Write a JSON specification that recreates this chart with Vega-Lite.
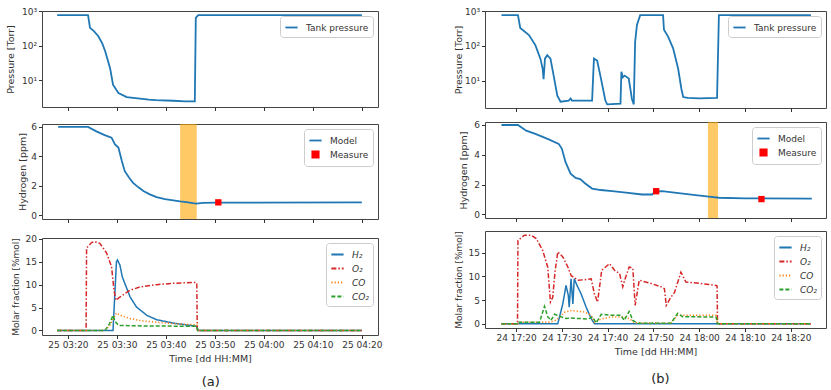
{
  "$schema": "https://vega.github.io/schema/vega-lite/v6.json",
  "padding": {"left": 4, "top": 6, "right": 0, "bottom": 0},
  "config": {
    "font": "DejaVu Sans",
    "view": {"stroke": "#444", "strokeWidth": 1},
    "axis": {"domain": false, "grid": false, "tickColor": "#333", "tickSize": 3.5, "labelFontSize": 9, "labelColor": "#333", "titleFontSize": 9.5, "titleFontWeight": "normal", "titleColor": "#333", "labelPadding": 2},
    "legend": {"labelFontSize": 9, "labelColor": "#333", "strokeColor": "#ccc", "fillColor": "#ffffff", "cornerRadius": 3, "padding": 4, "offset": 5, "symbolStrokeWidth": 1.8, "rowPadding": 1, "symbolSize": 150, "labelOffset": 7},
    "title": {"fontSize": 13, "fontWeight": "normal", "color": "#222"}
  },
  "datasets": {
    "pA": [
      {"t": 197.8, "p": 760}, {"t": 204.1, "p": 760}, {"t": 204.5, "p": 325}, {"t": 205.3, "p": 260}, {"t": 206.2, "p": 185},
      {"t": 207.0, "p": 115}, {"t": 207.6, "p": 68}, {"t": 208.6, "p": 22}, {"t": 209.2, "p": 7.3}, {"t": 210.3, "p": 4.2},
      {"t": 212.0, "p": 3.2}, {"t": 214.7, "p": 2.9}, {"t": 216.5, "p": 2.7}, {"t": 218.0, "p": 2.6}, {"t": 221.5, "p": 2.5},
      {"t": 224.0, "p": 2.4}, {"t": 225.9, "p": 2.4}, {"t": 226.1, "p": 630}, {"t": 226.6, "p": 760}, {"t": 260.0, "p": 760}
    ],
    "hA": [
      {"t": 198.0, "h": 6.0}, {"t": 204.1, "h": 6.0}, {"t": 205.9, "h": 5.68}, {"t": 207.5, "h": 5.45}, {"t": 208.9, "h": 5.27},
      {"t": 209.6, "h": 4.82}, {"t": 210.3, "h": 4.6}, {"t": 211.0, "h": 3.69}, {"t": 211.6, "h": 3.0}, {"t": 212.5, "h": 2.55},
      {"t": 213.3, "h": 2.2}, {"t": 214.4, "h": 1.9}, {"t": 215.4, "h": 1.65}, {"t": 216.7, "h": 1.42}, {"t": 218.1, "h": 1.24},
      {"t": 219.8, "h": 1.1}, {"t": 221.5, "h": 1.02}, {"t": 222.9, "h": 0.95}, {"t": 224.2, "h": 0.9}, {"t": 225.5, "h": 0.83},
      {"t": 226.3, "h": 0.8}, {"t": 227.5, "h": 0.84}, {"t": 230.3, "h": 0.86}, {"t": 260.0, "h": 0.88}
    ],
    "mA": [{"t": 230.7, "h": 0.88}],
    "bA": [{"t0": 222.9, "t1": 226.3}],
    "gA": [
      {"t": 197.8, "g": "H₂", "v": 0}, {"t": 209.2, "g": "H₂", "v": 0}, {"t": 209.9, "g": "H₂", "v": 15.0}, {"t": 210.1, "g": "H₂", "v": 15.4},
      {"t": 210.6, "g": "H₂", "v": 14.3}, {"t": 211.1, "g": "H₂", "v": 11.7}, {"t": 211.6, "g": "H₂", "v": 10.3}, {"t": 212.7, "g": "H₂", "v": 7.3},
      {"t": 214.0, "g": "H₂", "v": 5.1}, {"t": 216.1, "g": "H₂", "v": 3.3}, {"t": 218.1, "g": "H₂", "v": 2.35}, {"t": 221.5, "g": "H₂", "v": 1.6},
      {"t": 224.9, "g": "H₂", "v": 1.1}, {"t": 226.3, "g": "H₂", "v": 0.9}, {"t": 226.6, "g": "H₂", "v": 0}, {"t": 260.0, "g": "H₂", "v": 0},
      {"t": 197.8, "g": "O₂", "v": 0}, {"t": 203.7, "g": "O₂", "v": 0}, {"t": 203.8, "g": "O₂", "v": 18.0}, {"t": 204.8, "g": "O₂", "v": 19.2},
      {"t": 205.5, "g": "O₂", "v": 19.4}, {"t": 206.5, "g": "O₂", "v": 19.05}, {"t": 207.9, "g": "O₂", "v": 16.9}, {"t": 208.9, "g": "O₂", "v": 13.9},
      {"t": 209.4, "g": "O₂", "v": 8.8}, {"t": 209.8, "g": "O₂", "v": 6.6}, {"t": 210.6, "g": "O₂", "v": 7.3}, {"t": 212.7, "g": "O₂", "v": 8.8},
      {"t": 214.7, "g": "O₂", "v": 9.5}, {"t": 218.1, "g": "O₂", "v": 10.0}, {"t": 221.5, "g": "O₂", "v": 10.3}, {"t": 225.9, "g": "O₂", "v": 10.5},
      {"t": 226.3, "g": "O₂", "v": 10.4}, {"t": 226.4, "g": "O₂", "v": 0}, {"t": 260.0, "g": "O₂", "v": 0},
      {"t": 197.8, "g": "CO", "v": 0}, {"t": 207.5, "g": "CO", "v": 0}, {"t": 208.5, "g": "CO", "v": 1.0}, {"t": 209.4, "g": "CO", "v": 2.8},
      {"t": 209.9, "g": "CO", "v": 3.8}, {"t": 210.7, "g": "CO", "v": 3.3}, {"t": 212.7, "g": "CO", "v": 2.6}, {"t": 215.0, "g": "CO", "v": 2.1},
      {"t": 218.1, "g": "CO", "v": 1.8}, {"t": 221.5, "g": "CO", "v": 1.5}, {"t": 224.9, "g": "CO", "v": 1.3}, {"t": 226.3, "g": "CO", "v": 1.2},
      {"t": 226.5, "g": "CO", "v": 0}, {"t": 260.0, "g": "CO", "v": 0},
      {"t": 197.8, "g": "CO₂", "v": 0}, {"t": 207.6, "g": "CO₂", "v": 0}, {"t": 208.5, "g": "CO₂", "v": 1.5}, {"t": 209.2, "g": "CO₂", "v": 3.3},
      {"t": 209.6, "g": "CO₂", "v": 2.0}, {"t": 210.3, "g": "CO₂", "v": 1.1}, {"t": 214.0, "g": "CO₂", "v": 1.0}, {"t": 220.0, "g": "CO₂", "v": 0.95},
      {"t": 226.3, "g": "CO₂", "v": 0.9}, {"t": 226.5, "g": "CO₂", "v": 0}, {"t": 260.0, "g": "CO₂", "v": 0}
    ],
    "pB": [
      {"t": 1036.8, "p": 760}, {"t": 1040.4, "p": 760}, {"t": 1040.9, "p": 325}, {"t": 1042.8, "p": 205}, {"t": 1044.2, "p": 105},
      {"t": 1045.3, "p": 43}, {"t": 1045.8, "p": 22}, {"t": 1046.0, "p": 11}, {"t": 1046.3, "p": 43}, {"t": 1046.8, "p": 54},
      {"t": 1047.5, "p": 43}, {"t": 1048.2, "p": 14}, {"t": 1049.0, "p": 3.7}, {"t": 1049.7, "p": 2.5}, {"t": 1051.5, "p": 2.7},
      {"t": 1051.9, "p": 3.1}, {"t": 1052.2, "p": 2.7}, {"t": 1055.9, "p": 2.7}, {"t": 1056.6, "p": 2.7}, {"t": 1057.0, "p": 43},
      {"t": 1057.7, "p": 38}, {"t": 1058.4, "p": 14}, {"t": 1059.5, "p": 2.7}, {"t": 1059.9, "p": 2.1}, {"t": 1062.8, "p": 2.2},
      {"t": 1063.0, "p": 18}, {"t": 1063.3, "p": 12.5}, {"t": 1063.7, "p": 14}, {"t": 1064.6, "p": 11.5}, {"t": 1065.3, "p": 3.0},
      {"t": 1065.7, "p": 2.1}, {"t": 1066.0, "p": 130}, {"t": 1066.4, "p": 400}, {"t": 1067.1, "p": 760}, {"t": 1072.1, "p": 760},
      {"t": 1072.3, "p": 290}, {"t": 1073.2, "p": 185}, {"t": 1074.3, "p": 85}, {"t": 1075.4, "p": 22}, {"t": 1076.1, "p": 5.9},
      {"t": 1076.5, "p": 3.4}, {"t": 1077.5, "p": 3.2}, {"t": 1080.0, "p": 3.1}, {"t": 1083.9, "p": 3.2}, {"t": 1084.3, "p": 760},
      {"t": 1104.4, "p": 760}
    ],
    "hB": [
      {"t": 1036.8, "h": 6.0}, {"t": 1040.4, "h": 6.0}, {"t": 1042.2, "h": 5.62}, {"t": 1044.2, "h": 5.4}, {"t": 1047.0, "h": 5.05},
      {"t": 1049.3, "h": 4.73}, {"t": 1050.0, "h": 4.4}, {"t": 1050.8, "h": 3.5}, {"t": 1051.9, "h": 2.73}, {"t": 1053.0, "h": 2.44},
      {"t": 1054.0, "h": 2.36}, {"t": 1055.1, "h": 2.07}, {"t": 1056.6, "h": 1.73}, {"t": 1058.5, "h": 1.63}, {"t": 1061.0, "h": 1.56},
      {"t": 1064.0, "h": 1.45}, {"t": 1067.5, "h": 1.33}, {"t": 1069.7, "h": 1.33}, {"t": 1070.4, "h": 1.52}, {"t": 1071.9, "h": 1.55},
      {"t": 1075.5, "h": 1.42}, {"t": 1079.2, "h": 1.29}, {"t": 1082.1, "h": 1.18}, {"t": 1084.3, "h": 1.11}, {"t": 1090.1, "h": 1.07},
      {"t": 1104.6, "h": 1.05}
    ],
    "mB": [{"t": 1070.6, "h": 1.55}, {"t": 1093.6, "h": 1.02}],
    "bB": [{"t0": 1081.9, "t1": 1084.1}],
    "gB": [
      {"t": 1036.8, "g": "H₂", "v": 0}, {"t": 1049.1, "g": "H₂", "v": 0}, {"t": 1050.2, "g": "H₂", "v": 4.2}, {"t": 1050.9, "g": "H₂", "v": 8.1},
      {"t": 1051.4, "g": "H₂", "v": 6.0}, {"t": 1051.6, "g": "H₂", "v": 3.5}, {"t": 1052.0, "g": "H₂", "v": 9.5}, {"t": 1052.4, "g": "H₂", "v": 4.2},
      {"t": 1052.7, "g": "H₂", "v": 9.5}, {"t": 1053.3, "g": "H₂", "v": 8.1}, {"t": 1054.2, "g": "H₂", "v": 6.3}, {"t": 1055.3, "g": "H₂", "v": 3.5},
      {"t": 1056.4, "g": "H₂", "v": 1.1}, {"t": 1057.1, "g": "H₂", "v": 0}, {"t": 1104.4, "g": "H₂", "v": 0},
      {"t": 1036.8, "g": "O₂", "v": 0}, {"t": 1040.3, "g": "O₂", "v": 0}, {"t": 1040.4, "g": "O₂", "v": 17.6}, {"t": 1041.8, "g": "O₂", "v": 18.7},
      {"t": 1043.3, "g": "O₂", "v": 18.7}, {"t": 1044.4, "g": "O₂", "v": 18.0}, {"t": 1045.8, "g": "O₂", "v": 15.5}, {"t": 1046.9, "g": "O₂", "v": 12.0},
      {"t": 1047.5, "g": "O₂", "v": 4.6}, {"t": 1048.0, "g": "O₂", "v": 5.6}, {"t": 1048.5, "g": "O₂", "v": 11.0}, {"t": 1049.1, "g": "O₂", "v": 15.2},
      {"t": 1050.2, "g": "O₂", "v": 14.1}, {"t": 1051.3, "g": "O₂", "v": 12.0}, {"t": 1052.0, "g": "O₂", "v": 10.2}, {"t": 1053.5, "g": "O₂", "v": 9.2},
      {"t": 1055.0, "g": "O₂", "v": 9.3}, {"t": 1056.4, "g": "O₂", "v": 9.5}, {"t": 1057.1, "g": "O₂", "v": 6.3}, {"t": 1057.8, "g": "O₂", "v": 4.6},
      {"t": 1058.7, "g": "O₂", "v": 11.3}, {"t": 1060.4, "g": "O₂", "v": 12.7}, {"t": 1061.5, "g": "O₂", "v": 11.3}, {"t": 1062.6, "g": "O₂", "v": 10.6},
      {"t": 1063.3, "g": "O₂", "v": 7.8}, {"t": 1063.7, "g": "O₂", "v": 9.2}, {"t": 1064.7, "g": "O₂", "v": 12.0}, {"t": 1065.5, "g": "O₂", "v": 11.7},
      {"t": 1066.0, "g": "O₂", "v": 3.9}, {"t": 1066.9, "g": "O₂", "v": 9.2}, {"t": 1069.5, "g": "O₂", "v": 8.5}, {"t": 1071.7, "g": "O₂", "v": 7.8},
      {"t": 1072.4, "g": "O₂", "v": 7.4}, {"t": 1072.8, "g": "O₂", "v": 3.9}, {"t": 1073.8, "g": "O₂", "v": 5.6}, {"t": 1074.6, "g": "O₂", "v": 6.6},
      {"t": 1076.0, "g": "O₂", "v": 10.9}, {"t": 1077.1, "g": "O₂", "v": 8.8}, {"t": 1080.4, "g": "O₂", "v": 8.5}, {"t": 1083.7, "g": "O₂", "v": 8.1},
      {"t": 1083.9, "g": "O₂", "v": 8.0}, {"t": 1084.0, "g": "O₂", "v": 0}, {"t": 1104.4, "g": "O₂", "v": 0},
      {"t": 1036.8, "g": "CO", "v": 0}, {"t": 1040.4, "g": "CO", "v": 0}, {"t": 1040.5, "g": "CO", "v": 0.3}, {"t": 1047.0, "g": "CO", "v": 0.3},
      {"t": 1048.4, "g": "CO", "v": 0.6}, {"t": 1049.5, "g": "CO", "v": 1.3}, {"t": 1050.5, "g": "CO", "v": 2.4}, {"t": 1052.0, "g": "CO", "v": 2.8},
      {"t": 1054.9, "g": "CO", "v": 2.5}, {"t": 1056.4, "g": "CO", "v": 1.8}, {"t": 1057.1, "g": "CO", "v": 0.3}, {"t": 1058.6, "g": "CO", "v": 1.0},
      {"t": 1060.7, "g": "CO", "v": 1.4}, {"t": 1063.6, "g": "CO", "v": 1.4}, {"t": 1064.7, "g": "CO", "v": 1.1}, {"t": 1065.8, "g": "CO", "v": 0.2},
      {"t": 1073.8, "g": "CO", "v": 0.1}, {"t": 1075.3, "g": "CO", "v": 1.8}, {"t": 1083.7, "g": "CO", "v": 1.8}, {"t": 1084.0, "g": "CO", "v": 0},
      {"t": 1104.4, "g": "CO", "v": 0},
      {"t": 1036.8, "g": "CO₂", "v": 0}, {"t": 1040.4, "g": "CO₂", "v": 0}, {"t": 1040.5, "g": "CO₂", "v": 0.3}, {"t": 1045.1, "g": "CO₂", "v": 0.3},
      {"t": 1046.2, "g": "CO₂", "v": 3.7}, {"t": 1046.9, "g": "CO₂", "v": 1.5}, {"t": 1047.6, "g": "CO₂", "v": 0.7}, {"t": 1048.4, "g": "CO₂", "v": 2.0},
      {"t": 1049.8, "g": "CO₂", "v": 1.5}, {"t": 1050.9, "g": "CO₂", "v": 1.1}, {"t": 1052.0, "g": "CO₂", "v": 1.2}, {"t": 1055.7, "g": "CO₂", "v": 1.0},
      {"t": 1056.7, "g": "CO₂", "v": 1.4}, {"t": 1057.5, "g": "CO₂", "v": 0.2}, {"t": 1058.6, "g": "CO₂", "v": 2.0}, {"t": 1060.7, "g": "CO₂", "v": 1.8},
      {"t": 1062.9, "g": "CO₂", "v": 1.8}, {"t": 1063.6, "g": "CO₂", "v": 0.7}, {"t": 1064.7, "g": "CO₂", "v": 2.6}, {"t": 1065.5, "g": "CO₂", "v": 0.7},
      {"t": 1066.6, "g": "CO₂", "v": 0.1}, {"t": 1073.8, "g": "CO₂", "v": 0.1}, {"t": 1075.3, "g": "CO₂", "v": 2.2}, {"t": 1076.4, "g": "CO₂", "v": 1.5},
      {"t": 1083.7, "g": "CO₂", "v": 1.4}, {"t": 1084.0, "g": "CO₂", "v": 0}, {"t": 1104.4, "g": "CO₂", "v": 0}
    ]
  },
  "spacing": 69,
  "resolve": {"scale": {"color": "independent", "strokeDash": "independent"}, "legend": {"color": "independent", "strokeDash": "independent"}},
  "hconcat": [
    {
      "title": {"text": "(a)", "orient": "bottom", "anchor": "middle", "offset": 12, "dx": 17},
      "spacing": 10,
      "resolve": {"scale": {"color": "independent", "strokeDash": "independent"}, "legend": {"color": "independent", "strokeDash": "independent"}},
      "vconcat": [
        {
          "width": 336, "height": 96,
          "data": {"name": "pA"},
          "mark": {"type": "line", "strokeWidth": 1.8},
          "encoding": {
            "x": {"field": "t", "type": "quantitative", "scale": {"nice": false, "zero": false, "domain": [194.7, 263.3]}, "axis": {"title": null, "labels": false, "values": [200, 210, 220, 230, 240, 250, 260]}},
            "y": {"field": "p", "type": "quantitative", "scale": {"type": "log", "domain": [1.65, 1000], "nice": false}, "axis": {"title": "Pressure [Torr]", "titleX": -26.5, "values": [10, 100, 1000], "labelExpr": "datum.value == 10 ? '10¹' : datum.value == 100 ? '10²' : '10³'"}},
            "color": {"datum": "Tank pressure", "type": "nominal", "scale": {"range": ["#1f77b4"]}, "legend": {"title": null, "orient": "top-right", "symbolType": "stroke"}}
          }
        },
        {
          "width": 336, "height": 95,
          "layer": [
            {
              "data": {"name": "bA"},
              "mark": {"type": "rect", "color": "#ffa500", "opacity": 0.6},
              "encoding": {
                "x": {"field": "t0", "type": "quantitative", "scale": {"nice": false, "zero": false, "domain": [194.7, 263.3]}, "axis": {"title": null, "labels": false, "values": [200, 210, 220, 230, 240, 250, 260]}},
                "x2": {"field": "t1"}
              }
            },
            {
              "data": {"name": "hA"},
              "mark": {"type": "line", "strokeWidth": 1.8},
              "encoding": {
                "x": {"field": "t", "type": "quantitative"},
                "y": {"field": "h", "type": "quantitative", "scale": {"domain": [-0.25, 6.2], "nice": false, "zero": false}, "axis": {"title": "Hydrogen [ppm]", "titleX": -15, "values": [0, 2, 4, 6]}},
                "color": {"datum": "Model", "type": "nominal", "scale": {"domain": ["Model", "Measure"], "range": ["#1f77b4", "red"]}, "legend": {"title": null, "orient": "top-right", "encode": {"symbols": {"update": {"shape": {"signal": "datum.value === 'Measure' ? 'square' : 'stroke'"}, "fill": {"signal": "datum.value === 'Measure' ? 'red' : 'transparent'"}, "stroke": {"signal": "datum.value === 'Measure' ? 'transparent' : '#1f77b4'"}, "size": {"signal": "datum.value === 'Measure' ? 40 : 150"}}}}}}
              }
            },
            {
              "data": {"name": "mA"},
              "mark": {"type": "square", "size": 40, "opacity": 1},
              "encoding": {
                "x": {"field": "t", "type": "quantitative"},
                "y": {"field": "h", "type": "quantitative", "scale": {"domain": [-0.25, 6.2], "nice": false, "zero": false}, "axis": {"title": "Hydrogen [ppm]", "titleX": -15, "values": [0, 2, 4, 6]}},
                "color": {"datum": "Measure", "type": "nominal"}
              }
            }
          ]
        },
        {
          "width": 336, "height": 97,
          "data": {"name": "gA"},
          "mark": {"type": "line", "strokeWidth": 1.5},
          "encoding": {
            "x": {"field": "t", "type": "quantitative", "scale": {"nice": false, "zero": false, "domain": [194.7, 263.3]}, "axis": {"title": "Time [dd HH:MM]", "values": [200, 210, 220, 230, 240, 250, 260], "labelExpr": "'25 ' + format(floor(datum.value / 60), '02d') + ':' + format(datum.value % 60, '02d')", "titlePadding": 4}},
            "y": {"field": "v", "type": "quantitative", "scale": {"domain": [-1, 20.2], "nice": false}, "axis": {"title": "Molar fraction [%mol]", "titleFontSize": 9, "titleX": -21.5, "values": [0, 5, 10, 15, 20]}},
            "color": {"field": "g", "type": "nominal", "scale": {"domain": ["H₂", "O₂", "CO", "CO₂"], "range": ["#1f77b4", "#d62728", "#ff7f0e", "#2ca02c"]}, "legend": {"title": null, "orient": "top-right", "symbolType": "stroke", "labelFontStyle": "italic"}},
            "strokeDash": {"field": "g", "type": "nominal", "scale": {"domain": ["H₂", "O₂", "CO", "CO₂"], "range": [[1, 0], [5, 2, 1.5, 2], [1.2, 2], [4, 2]]}, "legend": {"title": null, "orient": "top-right", "symbolType": "stroke", "labelFontStyle": "italic"}}
          }
        }
      ]
    },
    {
      "title": {"text": "(b)", "orient": "bottom", "anchor": "middle", "offset": 16, "dx": 21},
      "spacing": 7,
      "resolve": {"scale": {"color": "independent", "strokeDash": "independent"}, "legend": {"color": "independent", "strokeDash": "independent"}},
      "vconcat": [
        {
          "width": 341, "height": 97,
          "data": {"name": "pB"},
          "mark": {"type": "line", "strokeWidth": 1.8},
          "encoding": {
            "x": {"field": "t", "type": "quantitative", "scale": {"nice": false, "zero": false, "domain": [1033.2, 1107.7]}, "axis": {"title": null, "labels": false, "values": [1040, 1050, 1060, 1070, 1080, 1090, 1100]}},
            "y": {"field": "p", "type": "quantitative", "scale": {"type": "log", "domain": [1.65, 1000], "nice": false}, "axis": {"title": "Pressure [Torr]", "titleX": -22, "values": [10, 100, 1000], "labelExpr": "datum.value == 10 ? '10¹' : datum.value == 100 ? '10²' : '10³'"}},
            "color": {"datum": "Tank pressure", "type": "nominal", "scale": {"range": ["#1f77b4"]}, "legend": {"title": null, "orient": "top-right", "symbolType": "stroke"}}
          }
        },
        {
          "width": 341, "height": 96,
          "layer": [
            {
              "data": {"name": "bB"},
              "mark": {"type": "rect", "color": "#ffa500", "opacity": 0.6},
              "encoding": {
                "x": {"field": "t0", "type": "quantitative", "scale": {"nice": false, "zero": false, "domain": [1033.2, 1107.7]}, "axis": {"title": null, "labels": false, "values": [1040, 1050, 1060, 1070, 1080, 1090, 1100]}},
                "x2": {"field": "t1"}
              }
            },
            {
              "data": {"name": "hB"},
              "mark": {"type": "line", "strokeWidth": 1.8},
              "encoding": {
                "x": {"field": "t", "type": "quantitative"},
                "y": {"field": "h", "type": "quantitative", "scale": {"domain": [-0.25, 6.2], "nice": false, "zero": false}, "axis": {"title": "Hydrogen [ppm]", "titleX": -17, "values": [0, 2, 4, 6]}},
                "color": {"datum": "Model", "type": "nominal", "scale": {"domain": ["Model", "Measure"], "range": ["#1f77b4", "red"]}, "legend": {"title": null, "orient": "top-right", "encode": {"symbols": {"update": {"shape": {"signal": "datum.value === 'Measure' ? 'square' : 'stroke'"}, "fill": {"signal": "datum.value === 'Measure' ? 'red' : 'transparent'"}, "stroke": {"signal": "datum.value === 'Measure' ? 'transparent' : '#1f77b4'"}, "size": {"signal": "datum.value === 'Measure' ? 40 : 150"}}}}}}
              }
            },
            {
              "data": {"name": "mB"},
              "mark": {"type": "square", "size": 40, "opacity": 1},
              "encoding": {
                "x": {"field": "t", "type": "quantitative"},
                "y": {"field": "h", "type": "quantitative", "scale": {"domain": [-0.25, 6.2], "nice": false, "zero": false}, "axis": {"title": "Hydrogen [ppm]", "titleX": -17, "values": [0, 2, 4, 6]}},
                "color": {"datum": "Measure", "type": "nominal"}
              }
            }
          ]
        },
        {
          "width": 341, "height": 97,
          "data": {"name": "gB"},
          "mark": {"type": "line", "strokeWidth": 1.5},
          "encoding": {
            "x": {"field": "t", "type": "quantitative", "scale": {"nice": false, "zero": false, "domain": [1033.2, 1107.7]}, "axis": {"title": "Time [dd HH:MM]", "values": [1040, 1050, 1060, 1070, 1080, 1090, 1100], "labelExpr": "'24 ' + format(floor(datum.value / 60), '02d') + ':' + format(datum.value % 60, '02d')", "titlePadding": 4}},
            "y": {"field": "v", "type": "quantitative", "scale": {"domain": [-0.9, 19.6], "nice": false}, "axis": {"title": "Molar fraction [%mol]", "titleFontSize": 9, "titleX": -22, "values": [0, 5, 10, 15]}},
            "color": {"field": "g", "type": "nominal", "scale": {"domain": ["H₂", "O₂", "CO", "CO₂"], "range": ["#1f77b4", "#d62728", "#ff7f0e", "#2ca02c"]}, "legend": {"title": null, "orient": "top-right", "symbolType": "stroke", "labelFontStyle": "italic"}},
            "strokeDash": {"field": "g", "type": "nominal", "scale": {"domain": ["H₂", "O₂", "CO", "CO₂"], "range": [[1, 0], [5, 2, 1.5, 2], [1.2, 2], [4, 2]]}, "legend": {"title": null, "orient": "top-right", "symbolType": "stroke", "labelFontStyle": "italic"}}
          }
        }
      ]
    }
  ]
}
